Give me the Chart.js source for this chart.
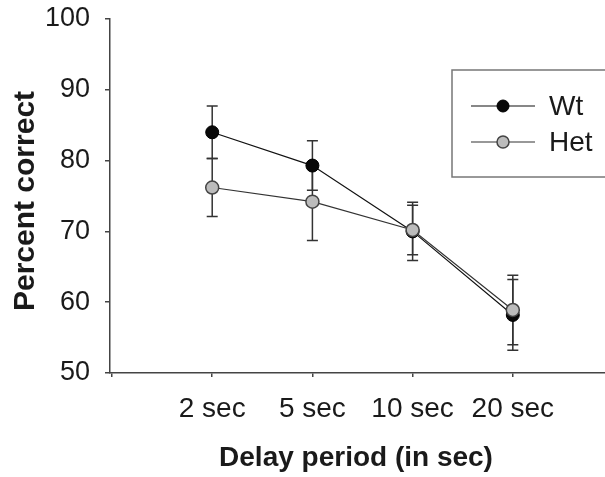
<!DOCTYPE html>
<html>
<head>
<meta charset="utf-8">
<script src="https://cdn.jsdelivr.net/npm/chart.js@4"></script>
<style>
 html,body{margin:0;padding:0;background:#fff;}
 #wrap{width:605px;height:477px;}
</style>
</head>
<body>
<div id="wrap"><canvas id="c" width="605" height="477"></canvas></div>
<script>
const categories=["2 sec","5 sec","10 sec","20 sec"];
const wtMean=[84.0,79.3,70.0,58.2];
const wtErr=[3.7,3.5,4.1,5.0];
const hetMean=[76.2,74.2,70.2,58.9];
const hetErr=[4.1,5.5,3.5,4.9];
const yTicks=[50,60,70,80,90,100];

const FONT="'Liberation Sans', Arial, sans-serif";
const toPts=arr=>arr.map((v,i)=>({x:i,y:v}));

// error bars under the markers
const errorBars={
 id:"errorBars",
 beforeDatasetsDraw(chart){
  const {ctx,scales:{x,y}}=chart;
  const sets=[[wtMean,wtErr],[hetMean,hetErr]];
  ctx.save();
  ctx.strokeStyle="#333"; ctx.lineWidth=1.5;
  sets.forEach(([m,e])=>{
   m.forEach((v,i)=>{
    const px=x.getPixelForValue(i);
    const top=y.getPixelForValue(v+e[i]), bot=y.getPixelForValue(v-e[i]);
    ctx.beginPath();
    ctx.moveTo(px,top); ctx.lineTo(px,bot);
    ctx.moveTo(px-5.5,top); ctx.lineTo(px+5.5,top);
    ctx.moveTo(px-5.5,bot); ctx.lineTo(px+5.5,bot);
    ctx.stroke();
   });
  });
  ctx.restore();
 }
};

// axis titles + boxed legend
const decor={
 id:"decor",
 afterDraw(chart){
  const ctx=chart.ctx;
  ctx.save();
  ctx.fillStyle="#1a1a1a";
  ctx.textAlign="center"; ctx.textBaseline="middle";
  ctx.font="bold 28px "+FONT;
  ctx.fillText("Delay period (in sec)",356,458);
  ctx.translate(26,201); ctx.rotate(-Math.PI/2);
  ctx.font="bold 30px "+FONT;
  ctx.fillText("Percent correct",0,0);
  ctx.restore();

  ctx.save();
  ctx.strokeStyle="#777"; ctx.lineWidth=1.5;
  ctx.strokeRect(452,70,170,107);
  const items=[[chart.data.datasets[0],106],[chart.data.datasets[1],142]];
  items.forEach(([ds,yy])=>{
   ctx.strokeStyle=ds.borderColor; ctx.lineWidth=1.2;
   ctx.beginPath(); ctx.moveTo(471,yy); ctx.lineTo(535,yy); ctx.stroke();
   ctx.beginPath(); ctx.arc(503,yy,6,0,Math.PI*2);
   ctx.fillStyle=ds.pointBackgroundColor; ctx.fill();
   ctx.strokeStyle=ds.pointBorderColor; ctx.lineWidth=ds.pointBorderWidth; ctx.stroke();
   ctx.fillStyle="#1a1a1a"; ctx.font="28px "+FONT;
   ctx.textAlign="left"; ctx.textBaseline="middle";
   ctx.fillText(ds.label,549,yy+1);
  });
  ctx.restore();
 }
};

new Chart(document.getElementById("c"),{
 type:"line",
 data:{datasets:[
  {label:"Wt",data:toPts(wtMean),borderColor:"#111",borderWidth:1.2,
   pointBackgroundColor:"#080808",pointBorderColor:"#000",pointBorderWidth:1,pointRadius:6.5,order:2},
  {label:"Het",data:toPts(hetMean),borderColor:"#333",borderWidth:1.2,
   pointBackgroundColor:"#bcbcbc",pointBorderColor:"#444",pointBorderWidth:1.5,pointRadius:6.5,order:1}
 ]},
 options:{
  responsive:false,animation:false,
  layout:{autoPadding:false,padding:{top:19,left:0,right:0,bottom:0}},
  plugins:{legend:{display:false},tooltip:{enabled:false}},
  scales:{
   x:{type:"linear",min:-1.02,max:3.92,
    afterBuildTicks:s=>{s.ticks=[-1,0,1,2,3].map(v=>({value:v}));},
    afterFit:s=>{s.height=104; s.paddingLeft=0; s.paddingRight=0;},
    ticks:{callback:v=>categories[v]??"",color:"#1a1a1a",font:{family:FONT,size:28},padding:15,maxRotation:0,autoSkip:false},
    grid:{drawOnChartArea:false,drawTicks:true,tickLength:4,color:"#444",lineWidth:1.5},
    border:{display:true,color:"#444",width:1.5}
   },
   y:{min:50,max:100,
    afterBuildTicks:s=>{s.ticks=yTicks.map(v=>({value:v}));},
    afterFit:s=>{s.width=110; s.paddingTop=0; s.paddingBottom=0;},
    ticks:{color:"#1a1a1a",font:{family:FONT,size:27},padding:15},
    grid:{drawOnChartArea:false,drawTicks:true,tickLength:5,color:"#444",lineWidth:1.5},
    border:{display:true,color:"#444",width:1.5}
   }
  }
 },
 plugins:[errorBars,decor]
});
</script>
</body>
</html>
